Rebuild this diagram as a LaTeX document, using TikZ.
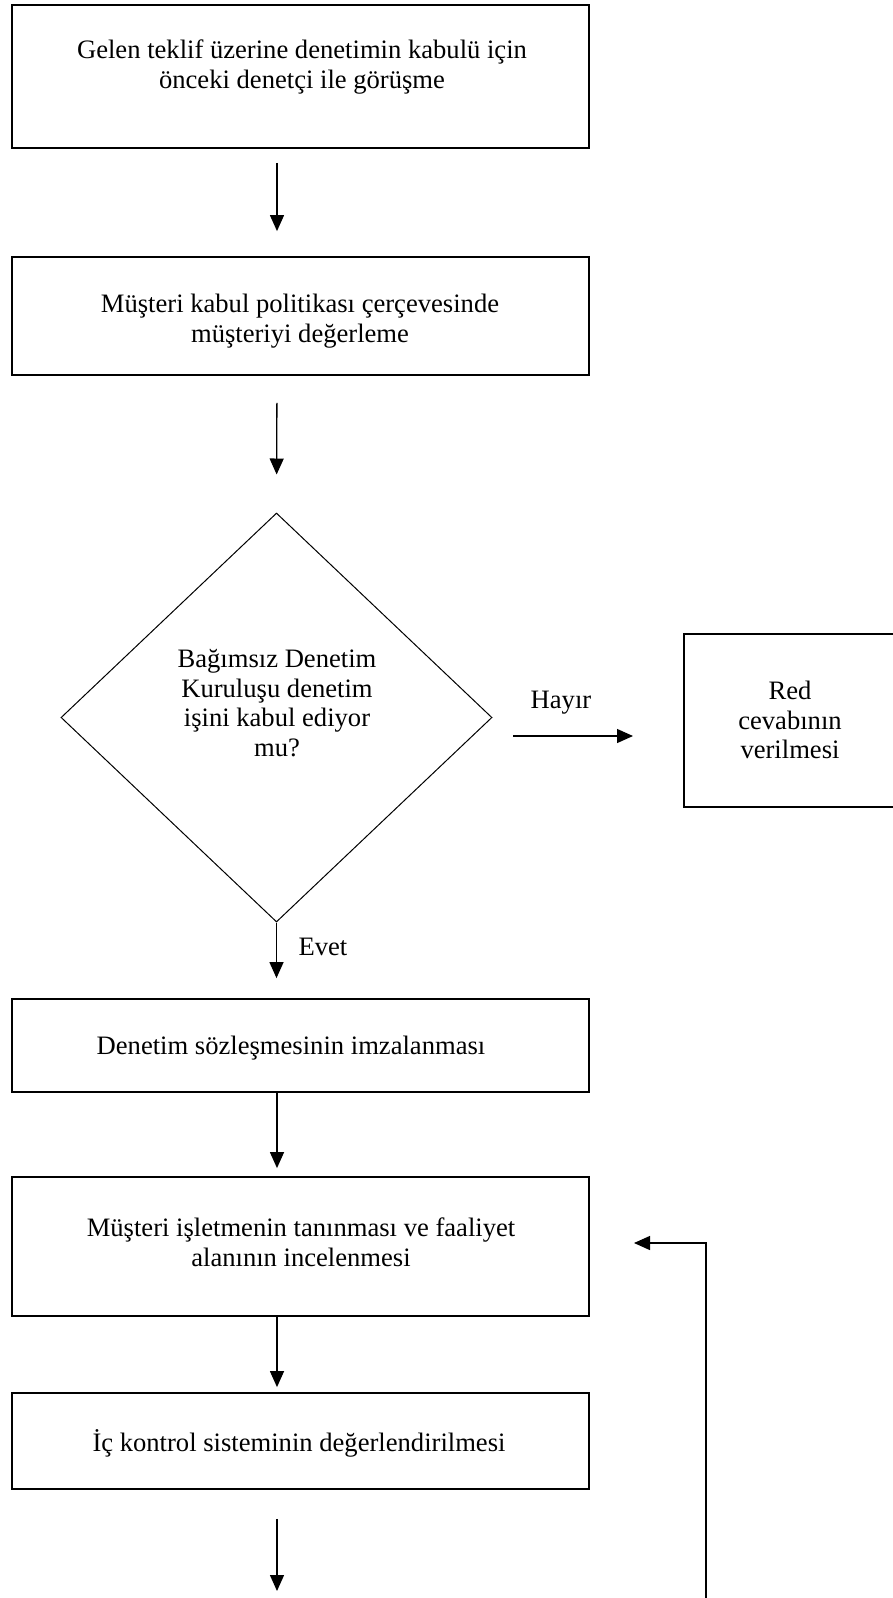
\documentclass[tikz,border=0pt]{standalone}
\usepackage{fontspec}
\setmainfont{Liberation Serif}
\usetikzlibrary{arrows.meta,shapes.geometric}
\begin{document}
\begin{tikzpicture}[x=1pt,y=-1pt,
  box/.style={draw, rectangle, line width=1.8pt, inner sep=0pt},
  txt/.style={font=\fontsize{26.6}{29.5}\selectfont, align=center, inner sep=0pt},
  arr/.style={line width=1.3pt, -{Triangle[length=16pt,width=14pt]}}]
\useasboundingbox (0,0) rectangle (892,1598);
% boxes
\node[box, minimum width=577pt, minimum height=143pt] (b1) at (300.5,76.5) {};
\node[box, minimum width=577pt, minimum height=118pt] (b2) at (300.5,316) {};
\node[diamond, draw, line width=1pt, inner sep=0pt, minimum width=431pt, minimum height=409pt] (dia) at (276.5,717.5) {};
\node[box, minimum width=212pt, minimum height=173pt] (red) at (790,720.5) {};
\node[box, minimum width=577pt, minimum height=93pt] (b3) at (300.5,1045.5) {};
\node[box, minimum width=577pt, minimum height=139pt] (b4) at (300.5,1246.5) {};
\node[box, minimum width=577pt, minimum height=96pt] (b5) at (300.5,1441) {};
% texts
\node[txt] (t1) at (302,67) {Gelen teklif üzerine denetimin kabulü için\\önceki denetçi ile görüşme};
\node[txt] (t2) at (300,321) {Müşteri kabul politikası çerçevesinde\\müşteriyi değerleme};
\node[txt] (td) at (277,703) {Bağımsız Denetim\\Kuruluşu denetim\\işini kabul ediyor\\mu?};
\node[txt] (th) at (561,703) {Hayır};
\node[txt] (tr) at (790,720) {Red\\cevabının\\verilmesi};
\node[txt] (te) at (323,947) {Evet};
\node[txt] (t3) at (291,1048) {Denetim sözleşmesinin imzalanması};
\node[txt] (t4) at (301,1242) {Müşteri işletmenin tanınması ve faaliyet\\alanının incelenmesi};
\node[txt] (t5) at (299,1443) {İç kontrol sisteminin değerlendirilmesi};
% connectors
\coordinate (h1) at (513,736);
\coordinate (h2) at (633,736);
\coordinate (e5) at (277,1591);
\coordinate (fb0) at (706,1600);
\coordinate (fb1) at (634,1243);
\draw[arr, shorten <=14pt, shorten >=25pt] (b1.south -| 277,0) -- (b2.north -| 277,0);
\draw[arr, shorten <=27pt, shorten >=38pt] (b2.south -| 277,0) -- (dia.north);
\draw[arr] (h1) -- (h2);
\draw[arr, shorten >=20pt] (dia.south) -- (b3.north -| dia.south);
\draw[arr, shorten >=8pt] (b3.south -| 277,0) -- (b4.north -| 277,0);
\draw[arr, shorten >=5pt] (b4.south -| 277,0) -- (b5.north -| 277,0);
\draw[arr, shorten <=29pt] (b5.south -| 277,0) -- (e5);
\draw[arr] (fb0) |- (fb1);
\end{tikzpicture}
\end{document}
